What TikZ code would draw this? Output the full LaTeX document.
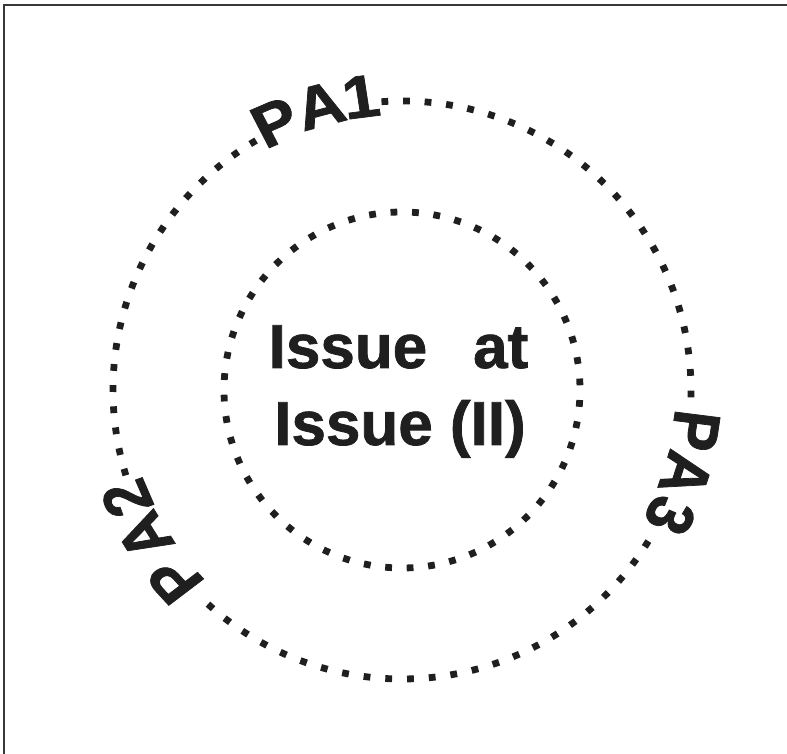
\documentclass[tikz,border=0pt]{standalone}
\usepackage{fontspec}
\setmainfont{Liberation Sans}
\newfontfamily\heavyfont[FakeBold=1.2]{Liberation Sans Bold}
\begin{document}
\begin{tikzpicture}[x=1pt,y=1pt]
\useasboundingbox (0,0) rectangle (787,754);
\tikzset{
 frameline/.style={line width=2pt, draw=black!78},
 sqdot/.style={fill=black!88},
 lbl/.style={font=\fontsize{60}{60}\selectfont\heavyfont, text=black!88, inner sep=0pt, anchor=center, xscale=1.1},
 ctr/.style={font=\fontsize{62}{62}\selectfont\heavyfont, text=black!88, inner sep=0pt, anchor=base},
}
\coordinate (tr) at (787,749);
\coordinate (tl) at (4,749);
\coordinate (bl) at (4,0);
\draw[frameline] (tr) -- (tl) -- (bl);

\begin{scope}[shift={(402,364)}]
 % inner dotted circle
 \foreach \i in {0,...,51} {
   \pgfmathsetmacro\a{2.6+\i*(360/52)}
   \fill[sqdot, shift={(\a:178)}, rotate=\a] (-3.4,-3.4) rectangle (3.4,3.4);
 }
 % outer dotted arcs between labels
 \foreach \s/\e/\n in {93.4/-0.8/22, -32.2/-131.5/23, 196.5/121/18} {
   \foreach \i in {0,...,\n} {
     \pgfmathsetmacro\a{\s+(\e-(\s))*(\i/\n)}
     \fill[sqdot, shift={(\a:289)}, rotate=\a] (-3.4,-3.4) rectangle (3.4,3.4);
   }
 }
 % labels on outer circle
 \node[lbl, rotate=25.3] (pa1p) at (115.3:296) {P};
 \node[lbl, rotate=16.1] (pa1a) at (106.1:296) {A};
 \node[lbl, rotate=8.0]  (pa1n) at (98.0:296) {1};
 \node[lbl, rotate=-97.9] (pa3p) at (-7.9:296) {P};
 \node[lbl, rotate=-106.5] (pa3a) at (-16.5:296) {A};
 \node[lbl, rotate=-115.1] (pa3n) at (-25.1:296) {3};
 \node[lbl, rotate=129.9] (pa2p) at (219.9:296) {P};
 \node[lbl, rotate=119.6] (pa2a) at (209.6:296) {A};
 \node[lbl, rotate=111.5] (pa2n) at (201.5:296) {2};
\end{scope}

\node[ctr] (line1) at (398.5,386) {Issue\hspace{46pt}at};
\node[ctr] (line2) at (400,309) {Issue (II)};
\end{tikzpicture}
\end{document}
